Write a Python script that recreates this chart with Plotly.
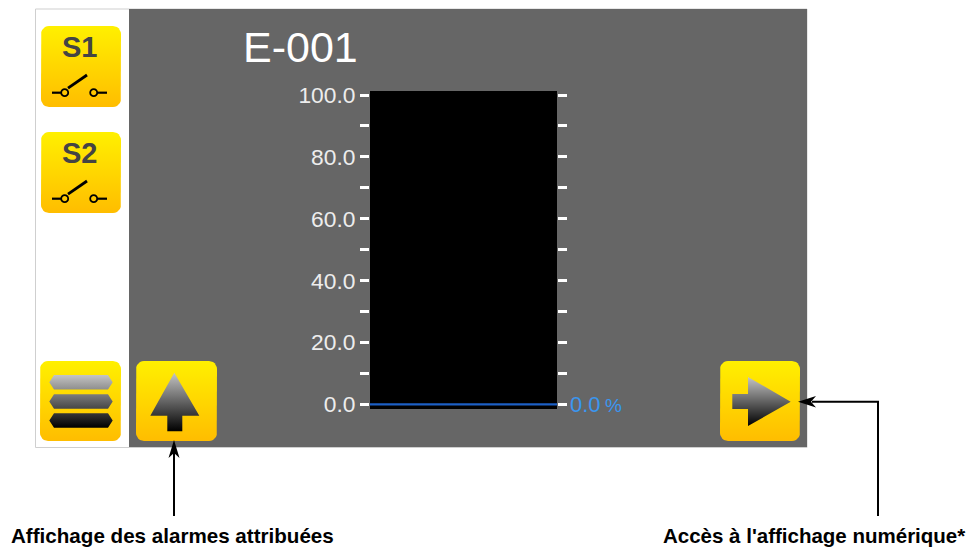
import math
import plotly.graph_objects as go

W, H = 971, 547

# ---- data ----
tick_values = [0, 10, 20, 30, 40, 50, 60, 70, 80, 90, 100]
tick_labels = ["0.0", "", "20.0", "", "40.0", "", "60.0", "", "80.0", "", "100.0"]
level_value = [0.0]
level_unit = "%"
gauge_title = "E-001"
switch_labels = ["S1", "S2"]
caption_left = "Affichage des alarmes attribuées"
caption_right = "Accès à l'affichage numérique*"

# ---- styles ----
GREY = "#666666"
YELLOW = [[0, "#FFBD00"], [1, "#FFF000"]]
ICON = [[0, "#000000"], [1, "#C4C4C4"]]
SOLID = [[0, "#000"], [1, "#000"]]
SANS = "Liberation Sans, Arial, sans-serif"

fig = go.Figure()


def px_x(x):
    return x / W


def px_y(y):
    return 1 - y / H


def rrect(x0, y0, x1, y1, r=8):
    xs, ys = [], []
    for cx, cy, a0 in [(x1 - r, y0 + r, -90), (x1 - r, y1 - r, 0), (x0 + r, y1 - r, 90), (x0 + r, y0 + r, 180)]:
        for i in range(7):
            a = math.radians(a0 + 15 * i)
            xs.append(cx + r * math.cos(a))
            ys.append(cy + r * math.sin(a))
    xs.append(xs[0])
    ys.append(ys[0])
    return xs, ys


def overlay_fill(xs, ys, scale):
    fig.add_trace(go.Scatter(
        x=xs, y=ys, xaxis="x2", yaxis="y2", mode="lines", fill="toself",
        line=dict(width=0, color="rgba(0,0,0,0)"),
        fillgradient=dict(type="vertical", colorscale=scale),
        hoverinfo="skip", showlegend=False))


def overlay_line(xs, ys, width, color="#000000"):
    fig.add_trace(go.Scatter(
        x=xs, y=ys, xaxis="x2", yaxis="y2", mode="lines",
        line=dict(width=width, color=color),
        hoverinfo="skip", showlegend=False))


# level line on the main gauge axes
fig.add_trace(go.Scatter(
    x=[0, 1], y=[level_value[0], level_value[0]], mode="lines",
    line=dict(color="#1C5FC4", width=2.2), hoverinfo="skip", showlegend=False))

# buttons
BUTTONS = [(41, 26, 121, 107), (41, 132, 121, 213), (40, 361, 121, 441),
           (136, 361, 217, 441), (720, 361, 800, 441)]
for b in BUTTONS:
    overlay_fill(*rrect(*b), YELLOW)

# switch symbols
for dy in (0, 106):
    y = 92.7 + dy
    overlay_line([52, 61], [y, y], 2.2)
    overlay_line([68, 87], [y - 4.5, y - 17.7], 2.8)
    overlay_line([97.5, 107], [y, y], 2.2)
    fig.add_trace(go.Scatter(
        x=[64.7, 93.7], y=[y, y], xaxis="x2", yaxis="y2", mode="markers",
        marker=dict(size=7, color="rgba(0,0,0,0)", line=dict(color="#000", width=1.8)),
        hoverinfo="skip", showlegend=False))

# menu icon
mx, my = [], []
for top in (375, 394.3, 413.3):
    bot = top + 14.4
    mid = top + 7.2
    mx += [54, 108, 112.7, 108, 54, 49.3, 54, None]
    my += [top, top, mid, bot, bot, mid, top, None]
overlay_fill(mx[:-1], my[:-1], ICON)

# up arrow icon
overlay_fill([174.3, 199.3, 182.3, 182.3, 167.3, 167.3, 150.3, 174.3],
             [372.7, 415.7, 415.7, 431.3, 431.3, 415.7, 415.7, 372.7],
             ICON)
# right arrow icon
overlay_fill([732.3, 748, 748, 790.7, 748, 748, 732.3, 732.3],
             [394, 394, 377, 401.7, 426, 409, 409, 394],
             ICON)

# callout arrows
overlay_line([174, 174], [516, 452], 2)
overlay_fill([174, 179.5, 174, 168.5, 174], [440, 458, 453, 458, 440], SOLID)
overlay_line([878, 878, 812], [516, 401.7, 401.7], 2)
overlay_fill([798, 816, 811, 816, 798], [401.7, 396, 401.7, 407.5, 401.7], SOLID)

annotations = [
    dict(text=gauge_title, x=px_x(241.5), y=px_y(47.5), xanchor="left", yanchor="middle",
         font=dict(size=43, color="#FFFFFF", family=SANS)),
    dict(text=f"{level_value[0]:.1f}\u2009<span style=\"font-size:19px\">{level_unit}</span>",
         x=px_x(569), y=px_y(404), xanchor="left", yanchor="middle",
         font=dict(size=22, color="#3A96F0", family=SANS)),
    dict(text=f"<b>{caption_left}</b>", x=px_x(10), y=px_y(535), xanchor="left", yanchor="middle",
         font=dict(size=20.6, color="#000000", family=SANS)),
    dict(text=f"<b>{caption_right}</b>", x=px_x(662), y=px_y(535), xanchor="left", yanchor="middle",
         font=dict(size=20.5, color="#000000", family=SANS)),
]
for label, cy in zip(switch_labels, (47.5, 153.5)):
    annotations.append(dict(text=f"<b>{label}</b>", x=px_x(79), y=px_y(cy), xanchor="center", yanchor="middle",
                            font=dict(size=29, color="#444444", family=SANS)))
for a in annotations:
    a.update(xref="paper", yref="paper", showarrow=False, borderpad=0)

shapes = [
    dict(type="rect", xref="paper", yref="paper", x0=px_x(35.5), x1=px_x(807), y0=px_y(447.5), y1=px_y(9),
         fillcolor="#FFFFFF", line=dict(color="#CFCFCF", width=1), layer="below"),
    dict(type="rect", xref="paper", yref="paper", x0=px_x(129), x1=px_x(807), y0=px_y(447), y1=px_y(9),
         fillcolor=GREY, line=dict(width=0), layer="below"),
    dict(type="rect", xref="paper", yref="paper", x0=px_x(370), x1=px_x(557), y0=px_y(409), y1=px_y(91),
         fillcolor="#000000", line=dict(width=0), layer="below"),
]

# axis scale: value 0 sits at y=404.3 px, value 100 at y=95 px
px_per_unit = (404.3 - 95) / 100

fig.update_layout(
    width=W, height=H, margin=dict(l=0, r=0, t=0, b=0, pad=0, autoexpand=False),
    paper_bgcolor="#FFFFFF", plot_bgcolor="rgba(0,0,0,0)",
    showlegend=False, shapes=shapes, annotations=annotations,
    xaxis=dict(domain=[px_x(370), px_x(557)], range=[0, 1], visible=False, fixedrange=True, automargin=False),
    yaxis=dict(domain=[px_y(409), px_y(91)],
               range=[-(409 - 404.3) / px_per_unit, (404.3 - 91) / px_per_unit],
               tickmode="array", tickvals=tick_values, ticktext=tick_labels,
               ticks="outside", ticklen=9, tickwidth=3, tickcolor="#FFFFFF",
               mirror="ticks", showline=False, showgrid=False, zeroline=False, automargin=False,
               tickfont=dict(size=22.8, color="#EDEDED", family=SANS), fixedrange=True),
    xaxis2=dict(domain=[0, 1], range=[0, W], visible=False, anchor="y2", fixedrange=True, automargin=False),
    yaxis2=dict(domain=[0, 1], range=[H, 0], visible=False, anchor="x2", fixedrange=True, automargin=False),
)

fig.write_html("out.html", config=dict(displayModeBar=False),
               post_script="document.body.style.margin='0';document.documentElement.style.margin='0';window.dispatchEvent(new Event('resize'));")
